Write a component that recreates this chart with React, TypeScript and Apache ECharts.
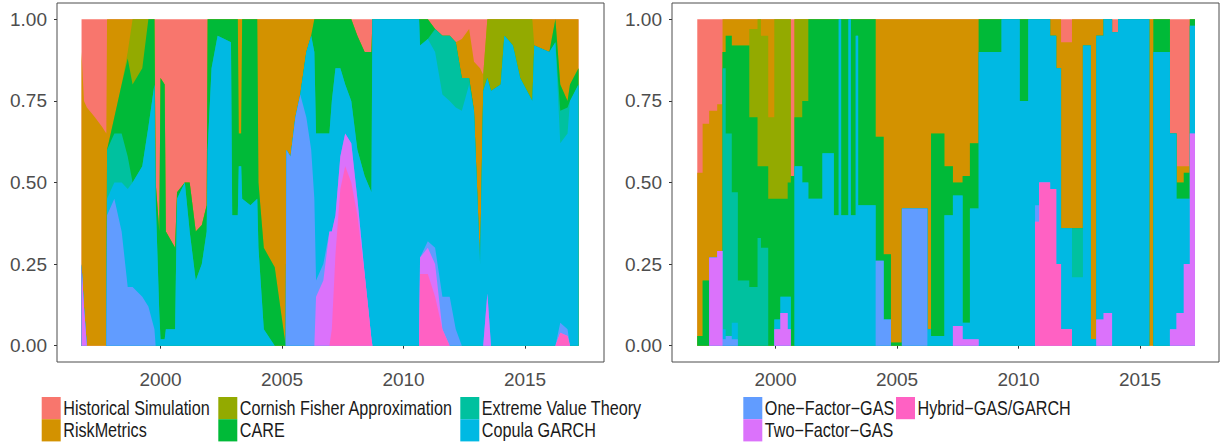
import { useEffect, useRef } from "react";
import * as echarts from "echarts";

// Legend / series names (legend order)
const names = [
  "Historical Simulation",
  "RiskMetrics",
  "Cornish Fisher Approximation",
  "CARE",
  "Extreme Value Theory",
  "Copula GARCH",
  "One\u2212Factor\u2212GAS",
  "Two\u2212Factor\u2212GAS",
  "Hybrid\u2212GAS/GARCH",
];
const colors = ["#F8766D", "#D39200", "#93AA00", "#00BA38", "#00C19F", "#00B9E3", "#619CFF", "#DB72FB", "#FF61C3"];

const xTicks = [2000, 2005, 2010, 2015];
const yTicks = [0, 0.25, 0.5, 0.75, 1];

// ---------------- Left panel ----------------
const leftX = [
  1996.75, 1996.85, 1996.97, 1997.3, 1997.6, 1997.77, 1997.8, 1998.1, 1998.4, 1998.65,
  1998.85, 1999.25, 1999.5, 1999.75, 1999.8, 1999.95, 2000.0, 2000.17, 2000.22, 2000.6,
  2000.68, 2001.0, 2001.2, 2001.45, 2001.7, 2001.9, 2001.94, 2002.1, 2002.35, 2002.9,
  2002.95, 2003.18, 2003.22, 2003.32, 2003.36, 2003.7, 2003.98, 2004.03, 2004.25, 2004.7,
  2005.15, 2005.18, 2005.35, 2005.55, 2005.75, 2006.0, 2006.2, 2006.33, 2006.4, 2006.7,
  2006.95, 2007.05, 2007.2, 2007.4, 2007.6, 2007.85, 2008.1, 2008.4, 2008.68, 2008.72,
  2010.64, 2010.68, 2011.0, 2011.3, 2011.6, 2011.9, 2012.15, 2012.4, 2012.7, 2012.9,
  2013.15, 2013.28, 2013.45, 2013.6, 2014.0, 2014.15, 2014.5, 2014.8, 2015.3, 2015.38,
  2016.0, 2016.25, 2016.45, 2016.75, 2016.85, 2017.2,
];
const leftHybrid = [
  0, 0, 0, 0, 0, 0, 0, 0, 0, 0,
  0, 0, 0, 0, 0, 0, 0, 0, 0, 0,
  0, 0, 0, 0, 0, 0, 0, 0, 0, 0,
  0, 0, 0, 0, 0, 0, 0, 0, 0, 0,
  0, 0, 0, 0, 0, 0, 0, 0, 0, 0,
  0, 0.05, 0.28, 0.48, 0.55, 0.5, 0.4, 0.22, 0.02, 0,
  0, 0.22, 0.22, 0.15, 0.05, 0, 0, 0, 0, 0,
  0, 0, 0, 0, 0, 0, 0, 0, 0, 0,
  0, 0, 0.04, 0.03, 0, 0,
];
const leftTwoFactor = [
  0.25, 0.12, 0, 0, 0, 0, 0, 0, 0, 0,
  0, 0, 0, 0, 0, 0, 0, 0, 0, 0,
  0, 0, 0, 0, 0, 0, 0, 0, 0, 0,
  0, 0, 0, 0, 0, 0, 0, 0, 0, 0,
  0, 0, 0, 0, 0, 0, 0, 0, 0.15, 0.2,
  0.35, 0.3, 0.12, 0.1, 0.1, 0.12, 0.05, 0, 0, 0,
  0, 0.05, 0.08, 0.1, 0, 0, 0, 0, 0, 0,
  0, 0, 0.16, 0, 0, 0, 0, 0, 0, 0,
  0, 0, 0, 0, 0, 0,
];
const leftOneFactor = [
  0, 0, 0, 0, 0, 0, 0.4, 0.45, 0.35, 0.18,
  0.18, 0.15, 0.12, 0.05, 0, 0, 0, 0, 0, 0,
  0, 0, 0, 0, 0, 0, 0, 0, 0, 0,
  0, 0, 0, 0, 0, 0, 0, 0, 0, 0,
  0, 0.6, 0.58, 0.7, 0.77, 0.7, 0.6, 0.45, 0.05, 0.05,
  0, 0, 0, 0, 0, 0, 0, 0, 0, 0,
  0, 0, 0.02, 0.05, 0.1, 0.15, 0.05, 0, 0, 0,
  0, 0, 0, 0, 0, 0, 0, 0, 0, 0,
  0, 0, 0.03, 0.02, 0, 0,
];
const leftCopula = [
  0, 0, 0, 0, 0, 0, 0.05, 0.05, 0.15, 0.3,
  0.32, 0.4, 0.55, 0.75, 0.45, 0.1, 0.02, 0.02, 0.05, 0.05,
  0.45, 0.5, 0.35, 0.2, 0.25, 0.35, 0.6, 0.85, 0.95, 0.93,
  0.4, 0.4, 0.55, 0.55, 0.45, 0.43, 0.45, 0.3, 0.05, 0,
  0, 0, 0, 0, 0, 0.2, 0.35, 0.45, 0.45, 0.4,
  0.3, 0.4, 0.45, 0.27, 0.15, 0.13, 0.15, 0.3, 0.45, 1,
  1, 0.65, 0.62, 0.6, 0.62, 0.6, 0.68, 0.72, 0.8, 0.72,
  0.25, 0.78, 0.66, 0.78, 0.8, 0.95, 0.92, 0.82, 0.75, 0.92,
  0.9, 0.93, 0.55, 0.6, 0.75, 0.8,
];
const leftEVT = [
  0, 0, 0, 0, 0, 0, 0.15, 0.15, 0.15, 0.1,
  0, 0, 0, 0, 0, 0, 0, 0, 0, 0,
  0, 0, 0, 0, 0, 0, 0, 0, 0, 0,
  0, 0, 0, 0, 0, 0, 0, 0, 0, 0,
  0, 0, 0, 0, 0, 0, 0, 0, 0, 0,
  0, 0, 0, 0, 0, 0, 0, 0, 0, 0,
  0, 0, 0, 0.07, 0.18, 0.2, 0.2, 0.1, 0.02, 0,
  0, 0, 0, 0, 0, 0, 0, 0, 0, 0,
  0, 0, 0.1, 0.08, 0, 0,
];
const leftCARE = [
  0, 0, 0, 0, 0, 0, 0, 0.05, 0.15, 0.3,
  0.3, 0.3, 0.33, 0.2, 0.05, 0.25, 0.8, 0.78, 0.3, 0.25,
  0.02, 0, 0.15, 0.15, 0.12, 0.08, 0.4, 0.15, 0.05, 0.07,
  0.6, 0.6, 0.1, 0.1, 0.55, 0.57, 0.55, 0.2, 0.25, 0.24,
  0, 0, 0, 0, 0, 0, 0, 0.1, 0.35, 0.35,
  0.35, 0.25, 0.15, 0.15, 0.2, 0.25, 0.35, 0.38, 0.43, 0,
  0, 0.08, 0.06, 0, 0, 0, 0, 0, 0, 0,
  0, 0, 0, 0, 0, 0, 0, 0, 0, 0,
  0, 0.07, 0.08, 0.02, 0.05, 0.05,
];
const leftCornish = [
  0, 0, 0, 0, 0, 0, 0, 0, 0, 0.02,
  0.2, 0.15, 0, 0, 0, 0, 0, 0, 0, 0,
  0, 0, 0, 0, 0, 0, 0, 0, 0, 0,
  0, 0, 0, 0, 0, 0, 0, 0, 0, 0,
  0, 0, 0, 0, 0, 0, 0, 0, 0, 0,
  0, 0, 0, 0, 0, 0, 0, 0, 0, 0,
  0, 0, 0, 0, 0, 0, 0, 0, 0, 0,
  0, 0.05, 0.18, 0.22, 0.2, 0.05, 0.08, 0.18, 0.25, 0,
  0, 0, 0, 0, 0, 0,
];
const leftRiskMetrics = [
  0.65, 0.63, 0.73, 0.7, 0.67, 0.65, 0.4, 0.3, 0.2, 0.1,
  0, 0, 0, 0, 0, 0, 0, 0, 0, 0,
  0, 0, 0, 0, 0, 0, 0, 0, 0, 0,
  0, 0, 0.35, 0.35, 0, 0, 0, 0.5, 0.7, 0.76,
  1, 0.4, 0.42, 0.3, 0.23, 0.1, 0.05, 0, 0, 0,
  0, 0, 0, 0, 0, 0, 0, 0, 0, 0,
  0, 0, 0, 0, 0, 0, 0, 0.12, 0.15, 0.15,
  0.6, 0, 0, 0, 0, 0, 0, 0, 0, 0.08,
  0.1, 0, 0.2, 0.25, 0.2, 0.15,
];
const leftHistorical = [
  0.1, 0.25, 0.27, 0.3, 0.33, 0.35, 0, 0, 0, 0,
  0, 0, 0, 0, 0.5, 0.65, 0.18, 0.2, 0.65, 0.7,
  0.53, 0.5, 0.5, 0.65, 0.63, 0.57, 0, 0, 0, 0,
  0, 0, 0, 0, 0, 0, 0, 0, 0, 0,
  0, 0, 0, 0, 0, 0, 0, 0, 0, 0,
  0, 0, 0, 0, 0, 0, 0.05, 0.1, 0.1, 0,
  0, 0, 0, 0.03, 0.05, 0.05, 0.07, 0.06, 0.03, 0.13,
  0.15, 0.17, 0, 0, 0, 0, 0, 0, 0, 0,
  0, 0, 0, 0, 0, 0,
];

// ---------------- Right panel ----------------
const rightX = [
  1996.78, 1997.0, 1997.27, 1997.6, 1997.82, 1997.95, 1998.2, 1998.45, 1998.92, 1999.26,
  1999.4, 1999.7, 1999.95, 2000.2, 2000.5, 2000.63, 2000.78, 2001.1, 2001.35, 2001.93,
  2002.4, 2002.6, 2002.7, 2003.0, 2003.1, 2003.3, 2003.4, 2004.12, 2004.45, 2004.75,
  2005.2, 2006.25, 2006.4, 2006.95, 2007.3, 2007.7, 2008.0, 2008.36, 2009.3, 2010.05,
  2010.4, 2010.68, 2010.85, 2011.3, 2011.55, 2011.75, 2012.2, 2012.65, 2012.98, 2013.2,
  2013.5, 2013.85, 2014.1, 2015.38, 2015.55, 2016.23, 2016.5, 2016.8, 2017.05, 2017.26,
];
const rightHybrid = [
  0, 0, 0, 0, 0, 0, 0, 0, 0, 0,
  0, 0, 0, 0, 0, 0, 0, 0, 0, 0,
  0, 0, 0, 0, 0, 0, 0, 0, 0, 0,
  0, 0, 0, 0, 0, 0, 0, 0, 0, 0,
  0, 0.38, 0.5, 0.48, 0.25, 0.05, 0, 0, 0, 0,
  0, 0, 0, 0, 0, 0, 0, 0, 0, 0,
];
const rightTwoFactor = [
  0, 0, 0.27, 0.29, 0, 0, 0, 0, 0, 0,
  0, 0, 0.05, 0.1, 0.05, 0, 0, 0, 0, 0,
  0, 0, 0, 0, 0, 0, 0, 0, 0, 0,
  0, 0, 0, 0, 0.06, 0.02, 0.02, 0, 0, 0,
  0, 0, 0, 0, 0, 0, 0, 0, 0, 0.08,
  0.1, 0, 0, 0, 0, 0.05, 0.1, 0.25, 0.65, 0.65,
];
const rightOneFactor = [
  0, 0, 0, 0, 0.02, 0.03, 0.02, 0, 0, 0,
  0, 0, 0, 0, 0, 0, 0, 0, 0, 0,
  0, 0, 0, 0, 0, 0, 0, 0.26, 0.08, 0,
  0.42, 0, 0, 0, 0, 0, 0, 0, 0, 0,
  0, 0.05, 0, 0, 0, 0, 0, 0, 0, 0,
  0, 0, 0, 0, 0, 0, 0, 0, 0, 0,
];
const rightCopula = [
  0, 0, 0, 0, 0.03, 0, 0.05, 0, 0, 0,
  0, 0, 0.03, 0.05, 0.1, 0, 0.55, 0.5, 0.45, 0.59,
  0.4, 1, 0.4, 1, 0.4, 0.95, 0.43, 0, 0, 0,
  0, 0.05, 0.03, 0.4, 0.4, 0.05, 0.4, 0.9, 1, 0.75,
  1, 0.57, 0.5, 0.47, 0.6, 0.31, 0.21, 0.92, 0.02, 0.87,
  0.9, 0.96, 1, 0, 0.9, 0.6, 0.35, 0.2, 0.33, 0.33,
];
const rightEVT = [
  0, 0, 0, 0, 0.8, 0.62, 0.4, 0.2, 0.18, 0.33,
  0.3, 0, 0, 0, 0, 0, 0, 0, 0, 0,
  0, 0, 0, 0, 0, 0, 0, 0, 0, 0,
  0, 0, 0, 0, 0, 0, 0, 0, 0, 0,
  0, 0, 0, 0, 0, 0, 0.15, 0, 0, 0,
  0, 0, 0, 0, 0, 0, 0, 0, 0, 0,
];
const rightCARE = [
  0.03, 0.2, 0, 0, 0.05, 0.3, 0.45, 0.72, 0.52, 0.22,
  0.25, 0.45, 0.37, 0.3, 0.35, 0.52, 0.15, 0.25, 0.55, 0.41,
  0.6, 0, 0.6, 0, 0.6, 0.05, 0.57, 0.38, 0.2, 0.01,
  0, 0, 0.62, 0.15, 0.04, 0.45, 0.2, 0.1, 0, 0.25,
  0, 0, 0, 0, 0, 0, 0, 0, 0, 0,
  0, 0, 0, 0, 0.1, 0, 0.05, 0.08, 0.02, 0.02,
];
const rightCornish = [
  0, 0, 0, 0, 0, 0, 0, 0, 0.27, 0.45,
  0.4, 0.25, 0.55, 0.55, 0.5, 0, 0.3, 0.25, 0, 0,
  0, 0, 0, 0, 0, 0, 0, 0, 0, 0,
  0, 0, 0, 0, 0, 0, 0, 0, 0, 0,
  0, 0, 0, 0, 0, 0, 0, 0, 0, 0,
  0, 0, 0, 0, 0, 0, 0, 0, 0, 0,
];
const rightRiskMetrics = [
  0.5, 0.48, 0.45, 0.45, 0.1, 0.05, 0.08, 0.08, 0.03, 0,
  0.05, 0.3, 0, 0, 0, 0, 0, 0, 0, 0,
  0, 0, 0, 0, 0, 0, 0, 0.36, 0.72, 0.99,
  0.58, 0.95, 0.35, 0.45, 0.5, 0.48, 0.38, 0, 0, 0,
  0, 0, 0, 0.05, 0.15, 0.57, 0.64, 0.08, 0.98, 0.05,
  0, 0, 0, 1, 0, 0, 0.05, 0.02, 0, 0,
];
const rightHistorical = [
  0.47, 0.32, 0.28, 0.26, 0, 0, 0, 0, 0, 0,
  0, 0, 0, 0, 0, 0.48, 0, 0, 0, 0,
  0, 0, 0, 0, 0, 0, 0, 0, 0, 0,
  0, 0, 0, 0, 0, 0, 0, 0, 0, 0,
  0, 0, 0, 0, 0, 0.07, 0, 0, 0, 0,
  0, 0.04, 0, 0, 0, 0.35, 0.45, 0.45, 0, 0,
];

// Layers listed in legend order (top of stack first)
const leftLayers = [leftHistorical, leftRiskMetrics, leftCornish, leftCARE, leftEVT, leftCopula, leftOneFactor, leftTwoFactor, leftHybrid];
const rightLayers = [rightHistorical, rightRiskMetrics, rightCornish, rightCARE, rightEVT, rightCopula, rightOneFactor, rightTwoFactor, rightHybrid];

function panelSeries(xs: number[], layers: number[][], gridIndex: number, step: boolean) {
  // stack from the bottom (last legend entry) upwards
  const n = layers.length;
  const cum = xs.map(() => 0);
  const tops: number[][] = new Array(n);
  for (let k = n - 1; k >= 0; k--) {
    layers[k].forEach((v, i) => (cum[i] += v));
    tops[k] = cum.slice();
  }
  // paint top-most cumulative first so lower layers cover it
  return layers.map((_, k) => ({
    type: "line",
    name: names[k],
    xAxisIndex: gridIndex,
    yAxisIndex: gridIndex,
    data: xs.map((x, i) => [x, Math.min(tops[k][i], 1)]),
    step: step ? "end" : false,
    showSymbol: false,
    symbol: "none",
    silent: true,
    lineStyle: { width: 0, opacity: 0 },
    itemStyle: { color: colors[k] },
    areaStyle: { color: colors[k], opacity: 1 },
    z: 2,
  }));
}

const tickFont = "'Liberation Sans', Arial, sans-serif";

function axesFor(i: number) {
  return {
    x: {
      type: "value",
      gridIndex: i,
      min: 1995.74,
      max: 2018.25,
      splitLine: { show: false },
      axisLine: { show: false },
      axisTick: { show: true, length: 3, lineStyle: { color: "#333333" }, customValues: xTicks },
      axisLabel: {
        customValues: xTicks,
        color: "#4D4D4D",
        fontSize: 19,
        fontFamily: tickFont,
        margin: 8,
        formatter: (v: number) => String(v),
      },
    },
    y: {
      type: "value",
      gridIndex: i,
      min: -0.05,
      max: 1.05,
      splitLine: { show: false },
      axisLine: { show: false },
      axisTick: { show: true, length: 3, lineStyle: { color: "#333333" }, customValues: yTicks },
      axisLabel: {
        customValues: yTicks,
        color: "#4D4D4D",
        fontSize: 19,
        fontFamily: tickFont,
        margin: 10,
        formatter: (v: number) => v.toFixed(2),
      },
    },
  };
}

const legendCols = [
  { x: 41.7, items: [0, 1] },
  { x: 218.3, items: [2, 3] },
  { x: 460.3, items: [4, 5] },
  { x: 743.3, items: [6, 7] },
  { x: 896, items: [8] },
];

export default function App() {
  const ref = useRef<HTMLDivElement>(null);
  useEffect(() => {
    if (!ref.current) return;
    const chart = echarts.init(ref.current, null, { renderer: "svg" });
    const a0 = axesFor(0);
    const a1 = axesFor(1);
    const legendEls: any[] = [];
    legendCols.forEach((col) => {
      col.items.forEach((k, row) => {
        legendEls.push({
          type: "rect",
          shape: { x: col.x, y: 397 + row * 22.2, width: 19, height: 22.2 },
          style: { fill: colors[k] },
        });
        legendEls.push({
          type: "text",
          x: col.x + 21.5,
          y: 408.5 + row * 22.2,
          scaleX: 0.83,
          style: {
            text: names[k],
            fill: "#1A1A1A",
            font: `19.5px ${tickFont}`,
            textVerticalAlign: "middle",
            textAlign: "left",
          },
        });
      });
    });
    chart.setOption({
      animation: false,
      backgroundColor: "#FFFFFF",
      grid: [
        { left: 57, top: 3, width: 547, height: 359, show: true, borderColor: "#4D4D4D", borderWidth: 1, backgroundColor: "transparent", z: 5 },
        { left: 672, top: 3, width: 547, height: 359, show: true, borderColor: "#4D4D4D", borderWidth: 1, backgroundColor: "transparent", z: 5 },
      ],
      xAxis: [a0.x, a1.x],
      yAxis: [a0.y, a1.y],
      series: [...panelSeries(leftX, leftLayers, 0, false), ...panelSeries(rightX, rightLayers, 1, true)],
      graphic: legendEls,
    });
    return () => chart.dispose();
  }, []);
  return <div ref={ref} style={{ position: "fixed", left: 0, top: 0, width: 1222, height: 445, background: "#fff" }} />;
}
